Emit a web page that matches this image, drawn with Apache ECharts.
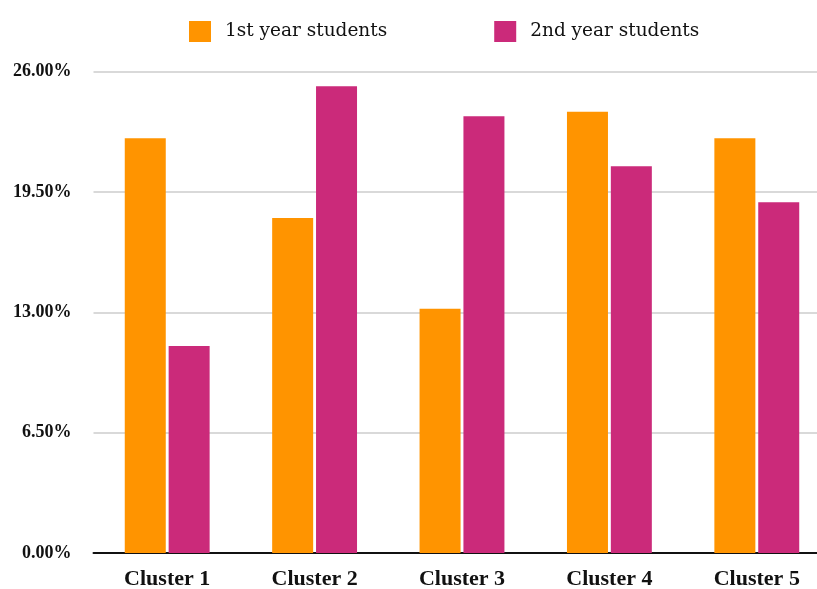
<!DOCTYPE html>
<html>
<head>
<meta charset="utf-8">
<style>
  html, body { margin: 0; padding: 0; background: #fff; }
  #chart { width: 817px; height: 589px; }
</style>
<script src="https://cdn.jsdelivr.net/npm/echarts@6/dist/echarts.min.js"></script>
</head>
<body>
<div id="chart"></div>
<script>
// Share of students per cluster, in percent
const categories = ['Cluster 1', 'Cluster 2', 'Cluster 3', 'Cluster 4', 'Cluster 5'];
const seriesNames = ['1st year students', '2nd year students'];
const firstYear = [22.40, 18.10, 13.20, 23.84, 22.40];
const secondYear = [11.18, 25.21, 23.59, 20.89, 18.95];
const yTicks = [0, 6.5, 13, 19.5, 26];

const SERIF = '"Liberation Serif", "DejaVu Serif", serif';
const WIDE_SERIF = '"DejaVu Serif", "Liberation Serif", serif';

const chart = echarts.init(document.getElementById('chart'), null, { renderer: 'canvas' });

chart.setOption({
  animation: false,
  backgroundColor: '#ffffff',
  color: ['#ff9400', '#cb2a7a'],
  legend: {
    left: 184,
    top: 16,
    icon: 'rect',
    itemWidth: 22,
    itemHeight: 21,
    itemGap: 107,
    textStyle: {
      fontFamily: WIDE_SERIF,
      fontSize: 18.5,
      color: '#111',
      padding: [0, 0, 0, 9]
    },
    data: seriesNames
  },
  grid: {
    left: 93.5,
    top: 71.7,
    width: 737,
    height: 481.3,
    containLabel: false,
    outerBoundsMode: 'none'
  },
  xAxis: {
    type: 'category',
    data: categories,
    axisLine: { lineStyle: { color: '#111', width: 2 } },
    axisTick: { show: false },
    axisLabel: {
      fontFamily: SERIF,
      fontSize: 22,
      fontWeight: 'bold',
      color: '#111',
      margin: 15
    }
  },
  yAxis: {
    type: 'value',
    min: yTicks[0],
    max: yTicks[yTicks.length - 1],
    interval: yTicks[1] - yTicks[0],
    axisLine: { show: false },
    axisTick: { show: false },
    splitLine: { lineStyle: { color: '#cccccc', width: 1.5 } },
    axisLabel: {
      fontFamily: SERIF,
      fontSize: 18,
      fontWeight: 'bold',
      color: '#111',
      margin: 22,
      formatter: v => v.toFixed(2) + '%'
    }
  },
  series: [
    {
      name: seriesNames[0],
      type: 'bar',
      data: firstYear,
      barWidth: 41,
      barGap: '7%'
    },
    {
      name: seriesNames[1],
      type: 'bar',
      data: secondYear,
      barWidth: 41,
      barGap: '7%'
    }
  ]
});
</script>
</body>
</html>
